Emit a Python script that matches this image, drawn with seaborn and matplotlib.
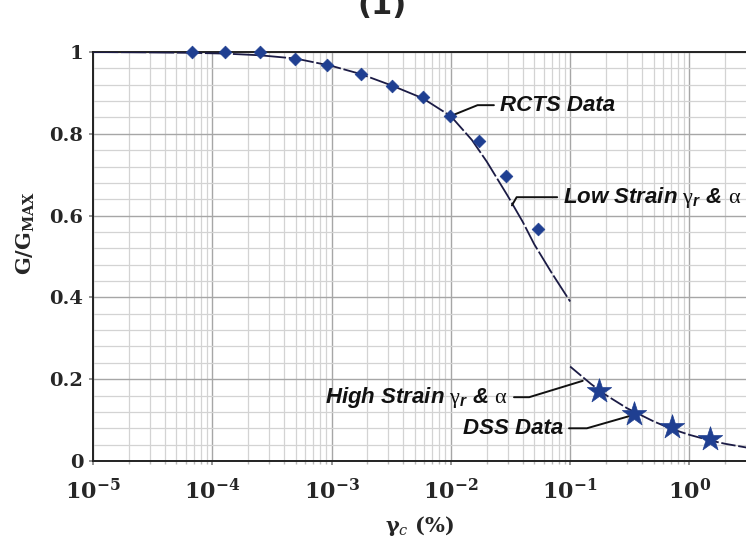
import matplotlib
matplotlib.use("Agg")
import matplotlib.pyplot as plt
import seaborn as sns
import pandas as pd
from matplotlib.ticker import FixedLocator, FixedFormatter, LogLocator, MultipleLocator, NullFormatter

# ---------------- data ----------------
rcts_strain = [6.7e-5, 1.29e-4, 2.5e-4, 4.9e-4, 9.2e-4, 1.76e-3, 3.2e-3,
               5.8e-3, 9.8e-3, 0.0172, 0.029, 0.0535]
rcts_ratio = [1.0, 1.0, 1.0, 0.984, 0.967, 0.945, 0.917,
              0.891, 0.843, 0.782, 0.696, 0.567]

dss_strain = [0.175, 0.344, 0.718, 1.49]
dss_ratio = [0.171, 0.115, 0.084, 0.055]

low_strain = [1e-5, 3e-5, 6.7e-5, 1.3e-4, 2.5e-4, 5e-4, 1e-3, 1.76e-3, 3.2e-3, 5.8e-3,
              1e-2, 1.5e-2, 2e-2, 3e-2, 4e-2, 5e-2, 7e-2, 0.1]
low_ratio = [1.0, 0.999, 0.998, 0.996, 0.992, 0.984, 0.966, 0.946, 0.918, 0.887,
             0.843, 0.785, 0.732, 0.648, 0.585, 0.530, 0.460, 0.39]

high_strain = [0.1, 0.15, 0.2, 0.3, 0.5, 0.7, 1.0, 1.5, 2.0, 3.0]
high_ratio = [0.231, 0.188, 0.161, 0.129, 0.097, 0.079, 0.064, 0.050, 0.042, 0.033]

x_ticks = [1e-5, 1e-4, 1e-3, 1e-2, 1e-1, 1e0]
x_tick_labels = [r"$\mathbf{10^{-5}}$", r"$\mathbf{10^{-4}}$", r"$\mathbf{10^{-3}}$",
                 r"$\mathbf{10^{-2}}$", r"$\mathbf{10^{-1}}$", r"$\mathbf{10^{0}}$"]
y_ticks = [0, 0.2, 0.4, 0.6, 0.8, 1.0]
y_tick_labels = ["0", "0.2", "0.4", "0.6", "0.8", "1"]

# ---------------- style ----------------
sns.set_theme(style="white")
plt.rcParams["font.family"] = ["DejaVu Serif"]
plt.rcParams.update({
    "mathtext.fontset": "custom",
    "mathtext.rm": "Liberation Serif",
    "mathtext.it": "Liberation Sans:italic:bold",
    "mathtext.bf": "DejaVu Serif:bold",
    "mathtext.sf": "DejaVu Serif:italic",
})

W, H = 746, 544
fig = plt.figure(figsize=(W / 100, H / 100), dpi=100)
ax = fig.add_axes([93 / W, (H - 461) / H, (W - 93) / W, (461 - 52) / H])
ax.set_xscale("log")

line_col = "#1b1b45"
mark_col = "#1f3f91"

low_df = pd.DataFrame({"strain": low_strain, "ratio": low_ratio})
high_df = pd.DataFrame({"strain": high_strain, "ratio": high_ratio})
rcts_df = pd.DataFrame({"strain": rcts_strain, "ratio": rcts_ratio})
dss_df = pd.DataFrame({"strain": dss_strain, "ratio": dss_ratio})

sns.lineplot(data=low_df, x="strain", y="ratio", ax=ax, color=line_col, lw=1.3,
             linestyle=(0, (14, 1.5)), estimator=None, sort=False, zorder=3)
sns.lineplot(data=high_df, x="strain", y="ratio", ax=ax, color=line_col, lw=1.3,
             linestyle=(0, (8, 1.5)), estimator=None, sort=False, zorder=3)
sns.scatterplot(data=rcts_df, x="strain", y="ratio", ax=ax, marker="D", s=42,
                color=mark_col, edgecolor=mark_col, linewidth=0.5, clip_on=False, zorder=5)
sns.scatterplot(data=dss_df, x="strain", y="ratio", ax=ax, marker="*", s=340,
                color=mark_col, edgecolor=mark_col, linewidth=0.5, clip_on=False, zorder=5)

ax.set_xlim(1e-5, 2.98)
ax.set_ylim(0, 1)

ax.xaxis.set_major_locator(FixedLocator(x_ticks))
ax.xaxis.set_major_formatter(FixedFormatter(x_tick_labels))
ax.xaxis.set_minor_locator(LogLocator(base=10, subs=[2, 3, 4, 5, 6, 7, 8, 9], numticks=20))
ax.xaxis.set_minor_formatter(NullFormatter())
ax.yaxis.set_major_locator(FixedLocator(y_ticks))
ax.yaxis.set_major_formatter(FixedFormatter(y_tick_labels))
ax.yaxis.set_minor_locator(MultipleLocator(0.04))

ax.grid(which="major", color="#a6a6a6", lw=1.0, zorder=0)
ax.grid(which="minor", color="#d3d3d3", lw=0.9, zorder=0)
ax.set_axisbelow(True)

for s in ["left", "bottom", "top"]:
    ax.spines[s].set_color("#222222")
    ax.spines[s].set_linewidth(1.4)
ax.spines["right"].set_visible(False)

ax.tick_params(axis="x", which="major", labelsize=16, pad=10, length=3, color="#888888",
               direction="out", bottom=True)
ax.tick_params(axis="x", which="minor", length=2, color="#bbbbbb", bottom=True)
ax.tick_params(axis="y", which="major", labelsize=14, pad=4, length=3, color="#888888",
               direction="out", left=True)
for lab in ax.get_yticklabels():
    lab.set_fontweight("bold")

ax.set_xlabel(r"γ$_{\mathsf{c}}$ (%)", fontsize=15, fontweight="bold")
ax.xaxis.set_label_coords(0.5, -0.13)
ax.set_ylabel(r"G/G$_{\mathbf{MAX}}$", fontsize=15, fontweight="bold")
ax.yaxis.set_label_coords(-0.085, 0.557)

fig.text(382 / W, 1 - 20 / H, "(1)", ha="center", va="bottom", fontsize=22,
         fontweight="bold", family="DejaVu Sans")

# ---------------- annotations ----------------
ann_font = dict(fontsize=16, fontweight="bold", fontstyle="italic", family="Liberation Sans",
                color="#111111")
leader = dict(arrowstyle="-", color="#111111", lw=1.4, shrinkA=2, shrinkB=0)

ax.annotate("RCTS Data", xy=(0.01047, 0.846), xytext=(0.0258, 0.870),
            ha="left", va="center",
            arrowprops=dict(leader, connectionstyle="angle,angleA=0,angleB=22,rad=0"),
            **ann_font)
ax.annotate(r"Low Strain $\mathrm{\gamma}_{\mathit{r}}$ & $\mathrm{\alpha}$",
            xy=(0.0325, 0.625), xytext=(0.0875, 0.645), ha="left", va="center",
            arrowprops=dict(leader, connectionstyle="angle,angleA=0,angleB=60,rad=0"),
            **ann_font)
ax.annotate(r"High Strain $\mathrm{\gamma}_{\mathit{r}}$ & $\mathrm{\alpha}$",
            xy=(0.1274, 0.196), xytext=(0.0301, 0.156), ha="right", va="center",
            arrowprops=dict(leader, connectionstyle="angle,angleA=0,angleB=17,rad=0"),
            **ann_font)
ax.annotate("DSS Data", xy=(0.338, 0.1125), xytext=(0.0871, 0.080), ha="right", va="center",
            arrowprops=dict(leader, connectionstyle="angle,angleA=0,angleB=16,rad=0"),
            **ann_font)

fig.savefig("out.png", dpi=100)
